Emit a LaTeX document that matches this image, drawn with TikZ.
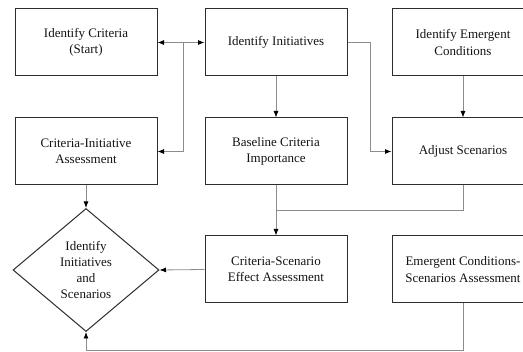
\documentclass[tikz,border=0pt]{standalone}
\usepackage{fontspec}
\setmainfont{Liberation Serif}
\usetikzlibrary{shapes.geometric,arrows.meta}
\definecolor{boxline}{RGB}{45,45,45}
\definecolor{conn}{RGB}{140,140,140}
\definecolor{txt}{RGB}{20,20,20}
\begin{document}
\begin{tikzpicture}[x=1pt,y=-1pt,
  box/.style={draw=boxline,line width=1pt,minimum width=142pt,minimum height=67pt,inner sep=0pt,align=center,text=txt,font=\fontsize{13}{16.5}\selectfont},
  dia/.style={draw=boxline,line width=1pt,shape=diamond,minimum width=146pt,minimum height=123pt,inner sep=0pt},
  lbl/.style={align=center,text=txt,font=\fontsize{13}{16}\selectfont},
  conn/.style={draw=conn,line width=0.8pt},
  arr/.style={conn,-{Latex[length=6.5pt,width=5pt,black]}},
  darr/.style={conn,{Latex[length=6.5pt,width=5pt,black]}-{Latex[length=6.5pt,width=5pt,black]}}]
\clip (0,0) rectangle (523,352);
\fill[white] (0,0) rectangle (523,352);
\node[box] (B1) at (86,42.5) {Identify Criteria\\(Start)};
\node[box] (B2) at (276,42.5) {Identify Initiatives};
\node[box] (B3) at (463,42.5) {Identify Emergent\\Conditions};
\node[box] (C1) at (86,151.5) {Criteria-Initiative\\Assessment};
\node[box] (C2) at (276,151.5) {Baseline Criteria\\Importance};
\node[box] (C3) at (463,151.5) {Adjust Scenarios};
\node[dia] (D) at (86,270) {};
\node[lbl] (Dt) at (D.center) {Identify\\Initiatives\\and\\Scenarios};
\node[box] (E1) at (276,269.5) {Criteria-Scenario\\Effect Assessment};
\node[box] (E2) at (463,269.5) {Emergent Conditions-\\Scenarios Assessment};
\coordinate (j1) at (183,42.5);
\coordinate (j2) at (370,42.5);
\coordinate (j3) at (276,210);
\coordinate (j4) at (463,350);
\draw[darr] (B1.east) -- (B2.west);
\draw[arr] (j1) |- (C1.east);
\draw[arr] (B2.south) -- (C2.north);
\draw[arr] (B2.east) -- (j2) |- (C3.west);
\draw[arr] (B3.south) -- (C3.north);
\draw[conn] (C3.south) |- (j3);
\draw[arr] (C2.south) -- (E1.north);
\draw[arr] (C1.south) -- (D.north);
\draw[arr] (E1.west) -- (D.east);
\draw[arr] (E2.south) -- (j4) -| (D.south);
\end{tikzpicture}
\end{document}
